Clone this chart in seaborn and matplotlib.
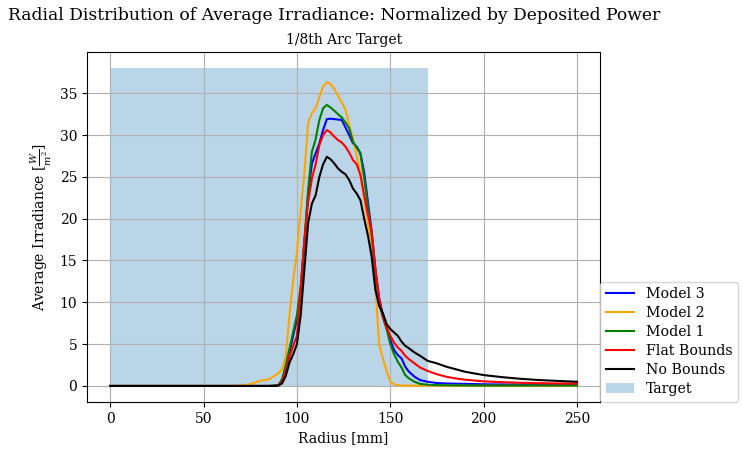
import numpy as np
import pandas as pd
import matplotlib
matplotlib.use("Agg")
import matplotlib.pyplot as plt
import seaborn as sns

radius = [0, 20, 40, 60, 70, 75, 80, 85, 88,
          90, 92, 94, 96, 98, 100, 102, 104, 106, 108, 110, 112, 114, 116, 118, 120,
          122, 124, 126, 128, 130, 132, 134, 136, 138, 140, 142, 144, 146, 148, 150,
          152, 154, 156, 158, 160, 163, 166, 170, 175, 180, 185, 190,
          200, 210, 220, 230, 240, 250]

model3 = [0, 0, 0, 0, 0, 0, 0, 0, 0.05,
          0.1, 0.6, 2.0, 4.0, 6.0, 8.0, 11.5, 17.0, 23.0, 26.6, 27.8, 29.0, 30.6, 31.9, 31.95, 31.9,
          31.85, 31.8, 30.9, 30.0, 29.0, 28.6, 27.8, 25.5, 22.0, 18.5, 14.0, 10.5, 8.5, 7.0, 5.5,
          4.3, 3.7, 3.3, 2.3, 1.7, 1.1, 0.7, 0.5, 0.35, 0.3, 0.27, 0.25,
          0.2, 0.18, 0.17, 0.16, 0.15, 0.15]

model2 = [0, 0, 0, 0, 0.05, 0.2, 0.6, 0.8, 1.2,
          1.5, 2.0, 3.5, 8.5, 12.7, 16.0, 21.0, 25.5, 31.5, 32.6, 33.2, 34.5, 35.8, 36.3, 36.1, 35.5,
          34.7, 33.9, 33.0, 31.2, 29.5, 27.5, 25.5, 22.5, 19.5, 17.0, 12.0, 5.0, 3.3, 1.8, 0.5,
          0.2, 0.1, 0.05, 0.05, 0.04, 0.04, 0.03, 0.03, 0.03, 0.02, 0.02, 0.02,
          0.02, 0.02, 0.02, 0.02, 0.02, 0.02]

model1 = [0, 0, 0, 0, 0, 0, 0, 0, 0.05,
          0.1, 0.8, 2.5, 4.5, 6.5, 8.5, 12.0, 17.5, 23.5, 28.0, 29.5, 31.8, 33.2, 33.6, 33.3, 32.9,
          32.5, 32.1, 31.5, 30.8, 29.2, 28.5, 27.8, 24.8, 21.5, 18.0, 13.5, 10.0, 8.2, 6.8, 5.0,
          3.8, 2.9, 2.2, 1.3, 0.9, 0.5, 0.25, 0.15, 0.1, 0.08, 0.07, 0.06,
          0.05, 0.05, 0.05, 0.05, 0.05, 0.05]

flat_bounds = [0, 0, 0, 0, 0, 0, 0, 0, 0,
               0.05, 0.5, 1.8, 3.5, 4.8, 6.0, 11.5, 17.5, 22.0, 24.8, 26.5, 28.8, 30.0, 30.6, 30.3, 29.8,
               29.4, 29.1, 28.6, 27.9, 27.0, 26.5, 25.2, 22.8, 20.5, 18.5, 14.0, 10.5, 8.3, 7.0, 6.0,
               5.2, 4.6, 4.2, 3.6, 3.2, 2.7, 2.2, 1.8, 1.4, 1.1, 0.9, 0.75,
               0.55, 0.45, 0.38, 0.33, 0.3, 0.28]

no_bounds = [0, 0, 0, 0, 0, 0, 0, 0, 0,
             0.05, 0.3, 1.2, 2.8, 3.8, 5.0, 8.5, 14.0, 19.5, 21.8, 22.8, 25.0, 26.5, 27.4, 27.1, 26.6,
             26.0, 25.6, 25.3, 24.6, 23.6, 23.0, 22.2, 20.0, 18.0, 15.5, 11.5, 9.6, 8.7, 7.4, 6.8,
             6.4, 6.0, 5.3, 4.8, 4.5, 4.0, 3.6, 3.0, 2.7, 2.3, 2.0, 1.7,
             1.3, 1.05, 0.85, 0.7, 0.6, 0.5]

series_names = ["Model 3", "Model 2", "Model 1", "Flat Bounds", "No Bounds"]
series_values = [model3, model2, model1, flat_bounds, no_bounds]
series_colors = ["blue", "orange", "green", "red", "black"]

target_start = 0
target_end = 170
target_height = 38

plt.rcParams["font.family"] = ["DejaVu Serif"]
plt.rcParams["mathtext.fontset"] = "dejavuserif"
plt.rcParams["font.size"] = 10

fig = plt.figure(figsize=(7.43, 4.5), dpi=100)
ax = fig.add_axes([0.117, 0.107, 0.691, 0.777])

for name, vals, col in zip(series_names, series_values, series_colors):
    df = pd.DataFrame({"Radius": radius, "Irr": vals})
    sns.lineplot(data=df, x="Radius", y="Irr", color=col, label=name, ax=ax,
                 linewidth=1.5, zorder=2)

ax.bar(target_start, target_height, width=target_end - target_start, align="edge",
       color="#1f77b4", alpha=0.3, label="Target", zorder=1)

ax.set_axisbelow("line")
ax.grid(True, color="#b0b0b0", linewidth=0.8)
ax.set_xlim(-12.5, 262.5)
ax.set_ylim(-1.9, 39.9)
ax.set_xlabel("Radius [mm]", fontsize=10)
ax.set_ylabel(r"Average Irradiance [$\frac{W}{m^2}$]", fontsize=10)
ax.set_title("1/8th Arc Target", fontsize=10)
ax.set_xticks([0, 50, 100, 150, 200, 250])
ax.set_yticks([0, 5, 10, 15, 20, 25, 30, 35])
ax.legend(loc="lower left", bbox_to_anchor=(1.0, 0.0), fontsize=10.2, frameon=True,
          borderaxespad=0.0, labelspacing=0.35)

fig.text(0.011, 0.985, "Radial Distribution of Average Irradiance: Normalized by Deposited Power",
         fontsize=12.3, ha="left", va="top")

fig.savefig("out.png", dpi=100)
